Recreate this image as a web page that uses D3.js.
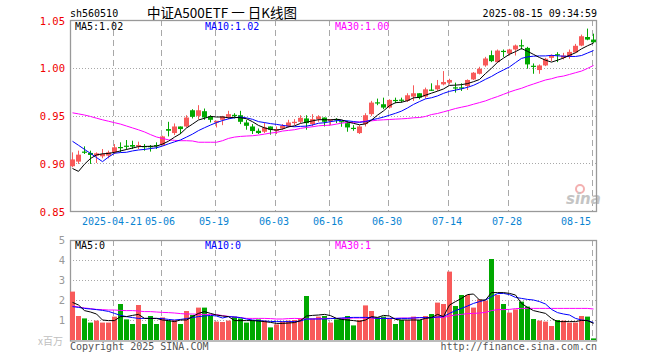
<!DOCTYPE html>
<html><head><meta charset="utf-8">
<script src="https://cdn.jsdelivr.net/npm/d3@7/dist/d3.min.js"></script>
<style>body{margin:0;background:#fff}svg{display:block}</style>
</head><body><svg id="c" width="660" height="360"></svg>
<script>
const dates = ["2025-04-10","2025-04-11","2025-04-14","2025-04-15","2025-04-16","2025-04-17","2025-04-18",
"2025-04-21","2025-04-22","2025-04-23","2025-04-24","2025-04-25","2025-04-28","2025-04-29","2025-04-30",
"2025-05-06","2025-05-07","2025-05-08","2025-05-09","2025-05-12","2025-05-13","2025-05-14","2025-05-15","2025-05-16",
"2025-05-19","2025-05-20","2025-05-21","2025-05-22","2025-05-23","2025-05-26","2025-05-27","2025-05-28","2025-05-29","2025-05-30",
"2025-06-03","2025-06-04","2025-06-05","2025-06-06","2025-06-09","2025-06-10","2025-06-11","2025-06-12","2025-06-13",
"2025-06-16","2025-06-17","2025-06-18","2025-06-19","2025-06-20","2025-06-23","2025-06-24","2025-06-25","2025-06-26","2025-06-27",
"2025-06-30","2025-07-01","2025-07-02","2025-07-03","2025-07-04","2025-07-07","2025-07-08","2025-07-09","2025-07-10","2025-07-11",
"2025-07-14","2025-07-15","2025-07-16","2025-07-17","2025-07-18","2025-07-21","2025-07-22","2025-07-23","2025-07-24","2025-07-25",
"2025-07-28","2025-07-29","2025-07-30","2025-07-31","2025-08-01","2025-08-04","2025-08-05","2025-08-06","2025-08-07","2025-08-08",
"2025-08-11","2025-08-12","2025-08-13","2025-08-14","2025-08-15"];
const tickDates = ["2025-04-21","2025-05-06","2025-05-19","2025-06-03","2025-06-16","2025-06-30","2025-07-14","2025-07-28","2025-08-15"];
const tickLabels = ["2025-04-21","05-06","05-19","06-03","06-16","06-30","07-14","07-28","08-15"];
const priceTicks = [1.05, 1.00, 0.95, 0.90, 0.85];
const volTicks = [5, 4, 3, 2, 1];

const open = [.8969,.9017,.9122,.9108,.9080,.9073,.9080,.9114,.9170,.9184,
.9191,.9174,.9180,.9180,.9191,.9191,.9358,.9316,.9385,.9385,
.9555,.9496,.9545,.9490,.9427,.9455,.9486,.9507,.9503,.9427,
.9385,.9340,.9330,.9385,.9340,.9364,.9385,.9420,.9434,.9469,
.9410,.9462,.9479,.9444,.9462,.9441,.9420,.9371,.9316,.9410,
.9514,.9638,.9618,.9583,.9663,.9666,.9653,.9698,.9733,.9698,
.9771,.9774,.9826,.9844,.9795,.9795,.9809,.9878,.9937,1.0024,
1.0132,1.0059,1.0177,1.0149,1.0191,1.0236,1.0208,1.0021,.9976,1.0024,
1.0104,1.0142,1.0104,1.0114,1.0160,1.0232,1.0322,1.0295];
const high = [.9114,.9132,.9177,.9132,.9114,.9149,.9132,.9201,.9219,.9243,
.9236,.9226,.9201,.9191,.9219,.9288,.9434,.9417,.9385,.9503,
.9566,.9608,.9573,.9503,.9444,.9496,.9549,.9524,.9549,.9455,
.9410,.9364,.9427,.9385,.9385,.9410,.9455,.9462,.9503,.9503,
.9514,.9503,.9479,.9462,.9472,.9441,.9444,.9399,.9399,.9524,
.9653,.9677,.9687,.9670,.9687,.9687,.9733,.9816,.9733,.9792,
.9837,.9872,.9965,.9885,.9844,.9837,.9878,.9955,1.0010,1.0114,
1.0180,1.0191,1.0191,1.0198,1.0243,1.0295,1.0219,1.0045,1.0035,1.0104,
1.0139,1.0163,1.0156,1.0191,1.0250,1.0347,1.0410,1.0357];
const low = [.8958,.8993,.9097,.8993,.9003,.9052,.9052,.9097,.9114,.9142,
.9149,.9149,.9132,.9122,.9149,.9184,.9281,.9295,.9306,.9375,
.9469,.9462,.9455,.9427,.9375,.9399,.9462,.9469,.9410,.9351,
.9306,.9306,.9316,.9299,.9306,.9351,.9375,.9399,.9420,.9351,
.9385,.9434,.9385,.9399,.9420,.9382,.9330,.9340,.9306,.9385,
.9496,.9608,.9566,.9573,.9628,.9635,.9642,.9653,.9670,.9677,
.9757,.9757,.9816,.9826,.9740,.9757,.9767,.9872,.9930,1.0010,
1.0059,1.0052,1.0114,1.0128,1.0128,1.0191,.9990,.9937,.9937,1.0017,
1.0069,1.0059,1.0087,1.0094,1.0156,1.0225,1.0288,1.0260];
const close = [.9040,.9090,.9115,.9087,.9104,.9097,.9114,.9167,.9163,.9177,
.9174,.9191,.9174,.9174,.9184,.9281,.9340,.9385,.9358,.9479,
.9486,.9555,.9479,.9455,.9444,.9490,.9514,.9500,.9434,.9392,
.9337,.9316,.9375,.9351,.9358,.9392,.9427,.9434,.9476,.9420,
.9462,.9490,.9434,.9462,.9455,.9434,.9375,.9364,.9385,.9503,
.9635,.9632,.9583,.9663,.9656,.9660,.9712,.9733,.9687,.9774,
.9764,.9816,.9851,.9872,.9788,.9788,.9872,.9948,.9990,1.0097,
1.0069,1.0180,1.0170,1.0191,1.0233,1.0229,1.0035,1.0014,1.0024,1.0094,
1.0128,1.0135,1.0128,1.0166,1.0230,1.0330,1.0295,1.0267];
const ma5 = [.8945,.8915,.8990,.9050,.9087,.9099,.9103,.9114,.9129,.9144,
.9159,.9174,.9176,.9178,.9179,.9201,.9231,.9273,.9310,.9369,
.9410,.9453,.9471,.9491,.9484,.9485,.9476,.9481,.9476,.9466,
.9435,.9396,.9371,.9354,.9347,.9358,.9381,.9392,.9417,.9430,
.9444,.9456,.9456,.9454,.9461,.9455,.9432,.9418,.9403,.9412,
.9452,.9504,.9548,.9603,.9634,.9639,.9655,.9685,.9690,.9713,
.9734,.9755,.9778,.9815,.9818,.9823,.9834,.9854,.9877,.9939,
.9995,1.0057,1.0101,1.0141,1.0169,1.0201,1.0172,1.0140,1.0107,1.0079,
1.0059,1.0079,1.0102,1.0130,1.0157,1.0198,1.0230,1.0258];
const ma10 = [.9230,.9188,.9145,.9103,.9060,.9017,.9065,.9105,.9112,.9115,
.9129,.9139,.9145,.9154,.9162,.9180,.9203,.9224,.9244,.9274,
.9305,.9342,.9372,.9400,.9426,.9447,.9465,.9476,.9484,.9475,
.9460,.9436,.9426,.9415,.9407,.9397,.9388,.9382,.9386,.9389,
.9401,.9419,.9424,.9436,.9445,.9449,.9444,.9437,.9428,.9436,
.9454,.9468,.9483,.9503,.9523,.9546,.9579,.9616,.9646,.9674,
.9686,.9705,.9732,.9753,.9766,.9779,.9795,.9816,.9846,.9879,
.9909,.9946,.9977,1.0009,1.0054,1.0098,1.0114,1.0121,1.0124,1.0124,
1.0130,1.0125,1.0121,1.0119,1.0118,1.0128,1.0154,1.0180];
const ma30 = [.9528,.9517,.9505,.9490,.9472,.9455,.9440,.9425,.9410,.9390,
.9370,.9350,.9328,.9300,.9275,.9260,.9245,.9240,.9236,.9236,
.9233,.9220,.9220,.9220,.9220,.9236,.9260,.9274,.9281,.9285,
.9288,.9295,.9305,.9316,.9323,.9337,.9344,.9351,.9365,.9375,
.9382,.9392,.9396,.9399,.9410,.9420,.9427,.9427,.9434,.9441,
.9444,.9451,.9455,.9458,.9462,.9465,.9469,.9476,.9479,.9490,
.9510,.9521,.9538,.9555,.9573,.9587,.9600,.9618,.9635,.9653,
.9677,.9698,.9722,.9746,.9767,.9785,.9809,.9830,.9851,.9872,
.9885,.9903,.9913,.9930,.9948,.9965,.9993,1.0024];
const volume = [2.42,1.2,1.08,.87,.97,.87,.87,1.17,1.8,1.03,
.8,1.75,.8,1.2,.8,1.13,.97,1.0,.8,1.45,
1.25,1.62,1.62,1.2,.92,.9,.97,1.17,1.08,.87,
1.0,1.03,.97,.63,.78,.92,.97,1.0,1.08,2.2,
1.08,1.17,1.2,.87,1.03,1.08,1.2,.73,1.0,1.73,
1.45,1.13,1.17,1.08,.8,1.0,1.0,1.17,1.0,1.2,
1.3,1.87,1.8,3.42,1.7,2.25,2.25,1.62,2.03,1.97,
4.05,2.25,1.8,1.37,1.53,1.92,1.67,1.05,.97,.92,
.7,1.0,.97,.87,.87,1.2,1.17,.08];
const vma5 = [1.88,1.75,1.47,1.4,1.3,1.0,.97,.97,1.17,1.17,
1.23,1.28,1.08,1.08,1.08,1.0,.97,.92,1.0,1.0,
1.17,1.33,1.42,1.33,1.25,1.2,1.17,.97,.97,.97,
.97,.95,.92,.88,.83,.83,.85,.87,.97,1.2,
1.23,1.25,1.28,1.22,1.08,1.03,1.0,.97,.93,1.0,
1.17,1.13,1.23,1.2,1.03,1.0,1.0,1.0,1.0,1.08,
1.12,1.28,1.17,1.75,1.92,2.08,2.27,2.3,2.0,2.0,
2.37,2.37,2.37,2.33,2.25,1.83,1.63,1.47,1.4,1.33,
1.08,.92,.92,.92,.92,.98,.97,.83];
const vma10 = [1.67,1.63,1.58,1.55,1.52,1.48,1.43,1.33,1.23,1.17,
1.12,1.08,1.08,1.08,1.08,1.07,1.03,1.0,1.03,1.07,
1.12,1.17,1.2,1.23,1.2,1.1,1.17,1.15,1.12,1.05,
1.0,.97,.95,.93,.92,.92,.92,.92,.95,1.05,
1.05,1.05,1.05,1.07,1.08,1.1,1.12,1.13,1.13,1.13,
1.12,1.08,1.08,1.08,1.08,1.08,1.08,1.1,1.12,1.12,
1.12,1.15,1.17,1.33,1.47,1.58,1.7,1.83,1.92,2.0,
2.17,2.32,2.33,2.27,2.13,2.08,2.03,2.0,1.92,1.8,
1.53,1.37,1.3,1.25,1.08,1.0,.97,.87];
const vma30 = [1.7,1.65,1.6,1.57,1.53,1.52,1.5,1.5,1.48,1.47,
1.47,1.45,1.42,1.42,1.4,1.38,1.37,1.35,1.32,1.3,
1.3,1.28,1.28,1.28,1.27,1.22,1.18,1.15,1.12,1.08,
1.08,1.08,1.08,1.07,1.05,1.05,1.07,1.08,1.07,1.05,
1.05,1.07,1.08,1.08,1.08,1.08,1.08,1.1,1.1,1.1,
1.1,1.08,1.08,1.08,1.08,1.1,1.1,1.1,1.12,1.12,
1.12,1.13,1.13,1.2,1.25,1.28,1.32,1.33,1.35,1.38,
1.47,1.52,1.52,1.53,1.57,1.58,1.58,1.58,1.58,1.58,
1.58,1.58,1.58,1.58,1.58,1.58,1.58,1.55];

const UP = "#f85a5a", DOWN = "#00a800", GRID = "#a8a8a8", BORDER = "#999";
const MONO = "'DejaVu Sans Mono', 'Liberation Mono', monospace";
const svg = d3.select("#c");
const L = 70, R = 597, T = 20, B = 211, VT = 240, VB = 340;

const x = d3.scaleBand().domain(dates).range([L, R]).paddingInner(0).paddingOuter(0);
const y = d3.scaleLinear().domain([0.85, 1.05]).range([B, T]);
const vy = d3.scaleLinear().domain([0, 5]).range([VB, VT]);
const bx = d => Math.round(x(d));
const cx = d => bx(d) + 2.5;

// header
svg.append("text").attr("x", 70).attr("y", 16.5).attr("font-family", MONO).attr("font-size", 10).attr("fill", "#000").text("sh560510");
svg.append("text").attr("x", 222).attr("y", 17.5).attr("text-anchor", "middle").attr("font-family", "'Noto Sans CJK SC', sans-serif").attr("font-size", 13.5).attr("fill", "#000").text("中证A500ETF 一 日K线图");
svg.append("text").attr("x", 597).attr("y", 16.5).attr("text-anchor", "end").attr("font-family", MONO).attr("font-size", 10).attr("fill", "#000").text("2025-08-15 09:34:59");

// grids
const gridG = svg.append("g");
[1.00, 0.95, 0.90].forEach(v => {
  gridG.append("line").attr("x1", L).attr("x2", R).attr("y1", Math.round(y(v)) + 0.5).attr("y2", Math.round(y(v)) + 0.5)
    .attr("stroke", GRID).attr("stroke-dasharray", "1,2");
});
[4, 3, 2, 1].forEach(v => {
  gridG.append("line").attr("x1", L).attr("x2", R).attr("y1", Math.round(vy(v)) + 0.5).attr("y2", Math.round(vy(v)) + 0.5)
    .attr("stroke", GRID).attr("stroke-dasharray", "1,2");
});
tickDates.forEach(d => {
  const gx = bx(d) + 1.5;
  gridG.append("line").attr("x1", gx).attr("x2", gx).attr("y1", T).attr("y2", B).attr("stroke", GRID).attr("stroke-dasharray", "6,4");
  gridG.append("line").attr("x1", gx).attr("x2", gx).attr("y1", VT).attr("y2", VB).attr("stroke", GRID).attr("stroke-dasharray", "6,4");
});

// sina watermark
const wm = svg.append("g");
wm.append("circle").attr("cx", 580).attr("cy", 189).attr("r", 4).attr("fill", "none").attr("stroke", "#f3b0b0").attr("stroke-width", 2);
wm.append("text").attr("x", 566).attr("y", 204).attr("font-family", "'DejaVu Sans', sans-serif").attr("font-weight", "bold").attr("font-style", "italic").attr("font-size", 15).attr("fill", "#c4c4c4").text("sina");

// borders
svg.append("rect").attr("x", L + 0.5).attr("y", T + 0.5).attr("width", R - L - 1).attr("height", B - T).attr("fill", "none").attr("stroke", BORDER).attr("stroke-width", 1.3);
svg.append("rect").attr("x", L + 0.5).attr("y", VT + 0.5).attr("width", R - L - 1).attr("height", VB - VT + 0.5).attr("fill", "none").attr("stroke", BORDER).attr("stroke-width", 1.3);

// y labels
priceTicks.forEach(v => {
  svg.append("text").attr("x", 65).attr("y", y(v) + 4.5).attr("text-anchor", "end").attr("font-family", MONO).attr("font-size", 10.5).attr("fill", "#f00000").text(v.toFixed(2));
});
volTicks.forEach(v => {
  svg.append("text").attr("x", 65).attr("y", vy(v) + 4).attr("text-anchor", "end").attr("font-family", MONO).attr("font-size", 10.5).attr("fill", "#999").text(v);
});
svg.append("text").attr("x", 63).attr("y", 345).attr("text-anchor", "end").attr("font-family", "'Noto Sans CJK SC', sans-serif").attr("font-size", 10).attr("fill", "#c0c0c0").text("x百万");

// x labels
tickDates.forEach((d, k) => {
  const gx = bx(d) + 1;
  const t = svg.append("text").attr("y", 224.5).attr("font-family", MONO).attr("font-size", 10).attr("fill", "#0a84d2").text(tickLabels[k]);
  if (k === tickDates.length - 1) t.attr("x", 591).attr("text-anchor", "end");
  else t.attr("x", gx - 1).attr("text-anchor", "middle");
});

// candles
const cg = svg.append("g");
dates.forEach((d, i) => {
  const up = close[i] >= open[i];
  const col = up ? UP : DOWN;
  cg.append("line").attr("x1", cx(d)).attr("x2", cx(d)).attr("y1", y(high[i])).attr("y2", y(low[i])).attr("stroke", col).attr("stroke-width", 1);
  const top = y(Math.max(open[i], close[i])), bot = y(Math.min(open[i], close[i]));
  cg.append("rect").attr("x", bx(d)).attr("y", top).attr("width", 5).attr("height", Math.max(1.2, bot - top)).attr("fill", col);
});

// MA lines price
const lineP = arr => d3.line().x((v, i) => cx(dates[i])).y(v => y(v))(arr);
[[ma30, "#ff00ff"], [ma10, "#0000ff"], [ma5, "#000"]].forEach(([a, c]) => {
  svg.append("path").attr("d", lineP(a)).attr("fill", "none").attr("stroke", c).attr("stroke-width", 1);
});

// volume bars
const vg = svg.append("g");
dates.forEach((d, i) => {
  const col = close[i] >= open[i] ? UP : DOWN;
  vg.append("rect").attr("x", bx(d)).attr("y", vy(volume[i])).attr("width", 5).attr("height", vy(0) - vy(volume[i])).attr("fill", col);
});
const lineV = arr => d3.line().x((v, i) => cx(dates[i])).y(v => vy(v))(arr);
[[vma30, "#ff00ff"], [vma10, "#0000ff"], [vma5, "#000"]].forEach(([a, c]) => {
  svg.append("path").attr("d", lineV(a)).attr("fill", "none").attr("stroke", c).attr("stroke-width", 1);
});

// legends
const leg = (tx, lx, ly, c) => svg.append("text").attr("x", lx).attr("y", ly).attr("font-family", MONO).attr("font-size", 10).attr("fill", c).text(tx);
leg("MA5:1.02", 75, 29.5, "#000");
leg("MA10:1.02", 205, 29.5, "#0000ff");
leg("MA30:1.00", 335, 29.5, "#ff00ff");
leg("MA5:0", 75, 249, "#000");
leg("MA10:0", 205, 249, "#0000ff");
leg("MA30:1", 335, 249, "#ff00ff");

// footer
svg.append("text").attr("x", 70).attr("y", 349.5).attr("font-family", MONO).attr("font-size", 10).attr("fill", "#555").text("Copyright 2025 SINA.COM");
svg.append("text").attr("x", 597).attr("y", 349.5).attr("text-anchor", "end").attr("font-family", MONO).attr("font-size", 10).attr("fill", "#555").text("http://finance.sina.com.cn");
</script></body></html>
